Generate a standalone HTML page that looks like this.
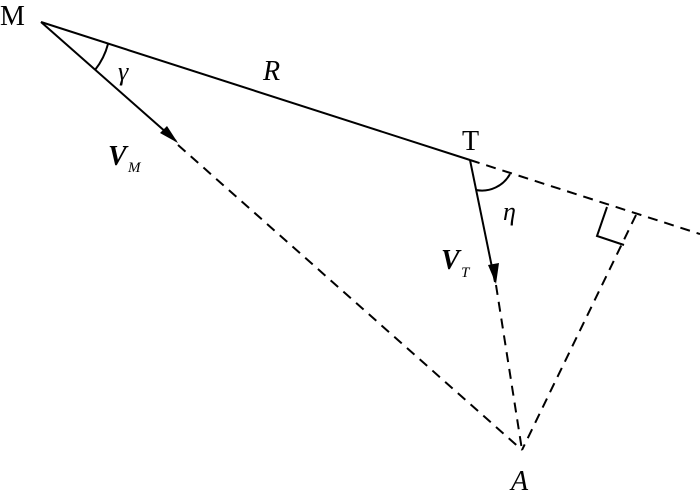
<!DOCTYPE html>
<html><head><style>body{margin:0;background:#fff}svg{display:block}</style></head><body>
<svg width="700" height="497" viewBox="0 0 700 497" xmlns="http://www.w3.org/2000/svg">
<g stroke="#000" stroke-width="2" fill="none">
<line x1="41" y1="22" x2="470" y2="160"/>
<line x1="41" y1="22" x2="176" y2="141"/>
<line x1="470" y1="160" x2="495" y2="282"/>
<g stroke-dasharray="10,7">
<line x1="470" y1="160" x2="700" y2="234"/>
<line x1="178" y1="145" x2="522" y2="450"/>
<line x1="496" y1="285" x2="522" y2="450"/>
<line x1="636" y1="215" x2="522" y2="450"/>
</g>
<path d="M607,207 L597,236 L624,245"/>
<path d="M108,44 A70,70 0 0 1 95,70"/>
<path d="M476,190 A32,32 0 0 0 510,174"/>
</g>
<g fill="#000">
<path d="M178,143 L160,133 L167,126 Z"/>
<path d="M496,284 L488,265 L499,263 Z"/>
</g>
<g font-family="Liberation Serif, serif" fill="#000">
<text x="0" y="25" font-size="28">M</text>
<text x="462" y="150" font-size="28">T</text>
<text x="263" y="80" font-size="28" font-style="italic">R</text>
<text x="118" y="80" font-size="26" font-style="italic">γ</text>
<text x="503" y="220" font-size="26" font-style="italic">η</text>
<text x="108" y="165" font-size="28" font-style="italic" font-weight="bold">V</text>
<text x="128" y="172" font-size="15" font-style="italic">M</text>
<text x="441" y="269" font-size="28" font-style="italic" font-weight="bold">V</text>
<text x="461" y="277" font-size="15" font-style="italic">T</text>
<text x="511" y="490" font-size="28" font-style="italic">A</text>
</g>
</svg>
</body></html>
